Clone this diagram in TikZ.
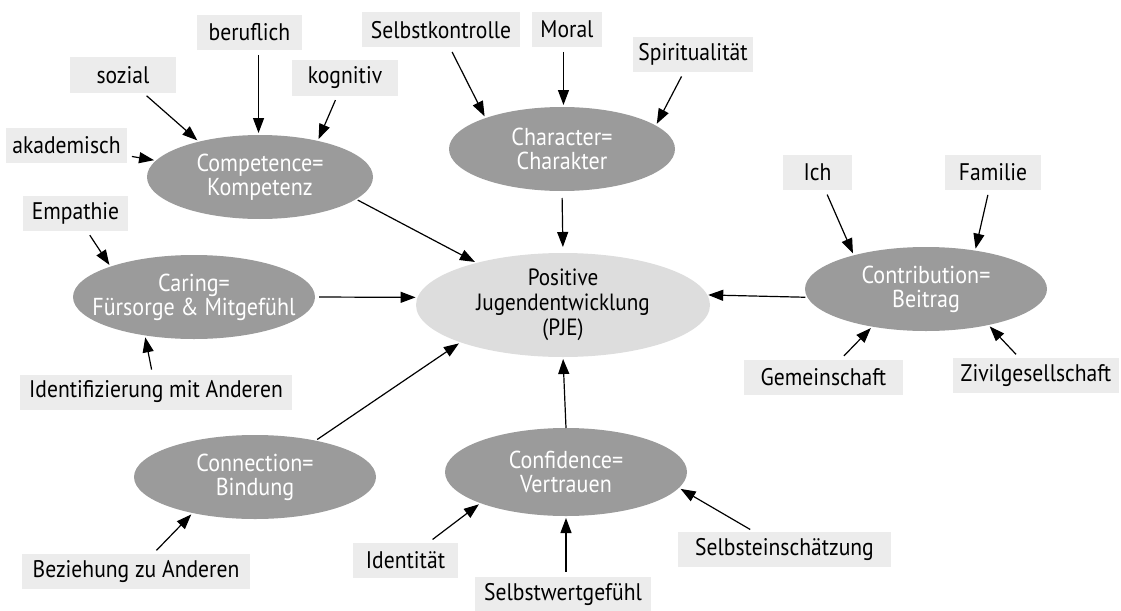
\documentclass[tikz,border=0pt]{standalone}
\usepackage{fontspec}
\setmainfont{PT Sans}[FakeStretch=0.9]
\usetikzlibrary{arrows.meta,shapes.geometric}
\definecolor{ellgray}{RGB}{155,155,155}
\definecolor{pjegray}{RGB}{221,221,221}
\definecolor{boxgray}{RGB}{236,236,236}
\begin{document}
\begin{tikzpicture}[x=1pt,y=-1pt,
  lbl/.style={fill=boxgray, font=\fontsize{24}{26}\selectfont, inner sep=0pt, outer sep=0pt,
    minimum height=35pt, minimum width=#1},
  ell/.style={ellipse, fill=ellgray, text=white, align=center, inner xsep=-40pt, inner ysep=-12pt, outer sep=0pt,
    font=\fontsize{24.5}{24}\selectfont, minimum width=#1, minimum height=84pt},
  arr/.style={-{Triangle[length=15pt,width=11pt]}, line width=1.2pt, shorten <=5pt, shorten >=2pt}]
\useasboundingbox (0,0) rectangle (1121,610);

% ellipses
\node[ell=226pt] (comp) at (260,177) {Competence=\\Kompetenz};
\node[ell=226pt] (char) at (562,149) {Character=\\Charakter};
\node[ell=242pt] (caring) at (194,297) {Caring=\\Fürsorge \& Mitgefühl};
\node[ell=242pt] (contr) at (926,289) {Contribution=\\Beitrag};
\node[ell=242pt] (conn) at (255,477) {Connection=\\Bindung};
\node[ell=242pt, minimum height=88pt] (conf) at (566,472) {Confidence=\\Vertrauen};
\node[ellipse, fill=pjegray, align=center, inner xsep=-30pt, inner ysep=-14pt, outer sep=0pt,
  font=\fontsize{23.5}{25}\selectfont, minimum width=294pt, minimum height=104pt] (pje) at (563,305)
  {Positive\\Jugendentwicklung\\(PJE)};

% labels
\node[lbl=105pt] (beruf) at (249.5,32.5) {beruflich};
\node[lbl=106pt] (sozial) at (123,75) {sozial};
\node[lbl=106pt] (kogn) at (345,78) {kognitiv};
\node[lbl=121pt] (akad) at (66.5,145.5) {akademisch};
\node[lbl=158pt] (selbstk) at (441,30) {Selbstkontrolle};
\node[lbl=70pt] (moral) at (567,29.5) {Moral};
\node[lbl=120pt] (spirit) at (693,54.5) {Spiritualität};
\node[lbl=105pt] (empath) at (75.5,213.5) {Empathie};
\node[lbl=272pt] (ident) at (156,392) {Identifizierung mit Anderen};
\node[lbl=69pt] (ich) at (817.5,172.5) {Ich};
\node[lbl=96pt] (fam) at (993,172.5) {Familie};
\node[lbl=159pt] (gemein) at (823.5,377) {Gemeinschaft};
\node[lbl=166pt] (zivil) at (1036,375.5) {Zivilgesellschaft};
\node[lbl=228pt] (bezieh) at (136,571.5) {Beziehung zu Anderen};
\node[lbl=105pt] (identitaet) at (405.5,560) {Identität};
\node[lbl=176pt] (selbstw) at (563,594) {Selbstwertgefühl};
\node[lbl=213pt] (selbste) at (784.5,549.5) {Selbsteinschätzung};

% arrows into Competence
\draw[arr] (akad) -- (comp.171);
\draw[arr] (sozial) -- (comp.150);
\draw[arr] (beruf.south -| comp.92) -- (comp.92);
\draw[arr] (kogn) -- (comp.32);
% into Character
\draw[arr] (selbstk) -- (char.158);
\draw[arr] (moral.south -| char.88) -- (char.88);
\draw[arr] (spirit) -- (char.14);
% into Caring
\draw[arr] (empath) -- (caring.160);
\draw[arr] (ident) -- (caring.218);
% into Contribution
\draw[arr] (ich) -- (contr.155);
\draw[arr] (fam) -- (contr.38);
\draw[arr] (gemein) -- (contr.215);
\draw[arr] (zivil) -- (contr.330);
% into Connection
\draw[arr] (bezieh) -- (conn.210);
% into Confidence
\draw[arr] (identitaet) -- (conf.200);
\draw[arr] (selbstw.north -| conf.south) -- (conf.south);
\draw[arr] (selbste) -- (conf.352);
% into PJE
\draw[arr, shorten <=2pt] (comp.-13) -- (pje.154);
\draw[arr, shorten <=7pt, shorten >=6pt] (char.south) -- (pje.north);
\draw[arr, shorten <=4pt] (caring.east) -- (pje.177);
\draw[arr, shorten <=2pt, shorten >=1pt] (contr.184) -- (pje.4);
\draw[arr, shorten <=2pt] (conn.31) -- (pje.200);
\draw[arr, shorten <=0pt, shorten >=2pt] (conf.north) -- (pje.south);
\end{tikzpicture}
\end{document}
